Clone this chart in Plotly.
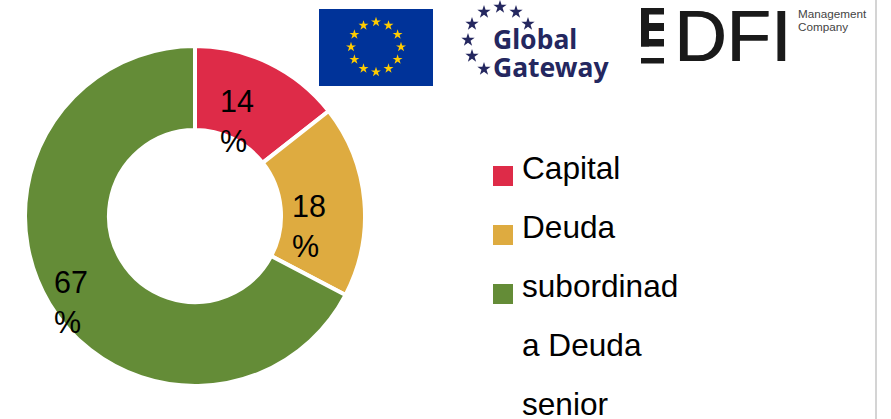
import plotly.graph_objects as go

labels = ["Capital", "Deuda subordinada", "Deuda senior"]
values = [14.4, 18.3, 67.3]
colors = ["#DE2B48", "#DEAB40", "#648C37"]
pie_text = ["14<br>%", "18<br>%", "67<br>%"]
pie_text_x = [237, 309, 71]
pie_text_y = [121, 226, 302]
legend_lines = ["Capital", "Deuda", "subordinad", "a Deuda", "senior"]
legend_line_y = [168, 227, 286, 345, 404]
swatch_y = [176, 235, 294]
flag_star_x = [376, 388.5, 397.6, 401, 397.6, 388.5, 376, 363.5, 354.4, 351, 354.4, 363.5]
flag_star_y = [22, 25.4, 34.5, 47, 59.5, 68.6, 72, 68.6, 59.5, 47, 34.5, 25.4]
gg_star_x = [484, 500, 516, 528, 472, 468, 472, 484]
gg_star_y = [12, 7, 12, 24, 24, 40, 56, 69]

W, H = 891, 419
fig = go.Figure()
fig.add_trace(go.Pie(
    values=values, labels=labels, hole=0.506, sort=False, direction="clockwise", rotation=0,
    marker=dict(colors=colors, line=dict(color="white", width=4)),
    textinfo="none", hoverinfo="label+percent", showlegend=False,
    domain=dict(x=[25 / W, 365 / W], y=[1 - 386 / H, 1 - 46 / H]),
))
fig.add_trace(go.Scatter(x=flag_star_x, y=flag_star_y, mode="markers", showlegend=False, hoverinfo="skip",
                         marker=dict(symbol="star", size=7.5, color="#FFCC00", line=dict(width=0))))
fig.add_trace(go.Scatter(x=gg_star_x, y=gg_star_y, mode="markers", showlegend=False, hoverinfo="skip",
                         marker=dict(symbol="star", size=10, color="#24275F", line=dict(width=0))))

shapes = [
    dict(type="rect", x0=319, x1=433, y0=9, y1=86, fillcolor="#003399", line_width=0, layer="below"),
    dict(type="rect", x0=641, x1=664, y0=8, y1=14.5, fillcolor="#1a1a1a", line_width=0),
    dict(type="rect", x0=641, x1=664, y0=23, y1=31, fillcolor="#1a1a1a", line_width=0),
    dict(type="rect", x0=641, x1=664, y0=39, y1=46.5, fillcolor="#1a1a1a", line_width=0),
    dict(type="rect", x0=641, x1=649, y0=8, y1=46.5, fillcolor="#1a1a1a", line_width=0),
    dict(type="rect", x0=641, x1=664, y0=58, y1=63.5, fillcolor="#1a1a1a", line_width=0),
    dict(type="line", x0=876, x1=876, y0=0, y1=H, line=dict(color="#d4d4d4", width=2)),
]
for c, y in zip(colors, swatch_y):
    shapes.append(dict(type="rect", x0=493, x1=513, y0=y - 10, y1=y + 10, fillcolor=c, line_width=0))

ann = []
for t, x, y in zip(pie_text, pie_text_x, pie_text_y):
    ann.append(dict(x=x, y=y, text=t, showarrow=False, xanchor="center", yanchor="middle", align="left",
                    font=dict(family="Liberation Sans", size=30.5, color="#000")))
for t, y in zip(legend_lines, legend_line_y):
    ann.append(dict(x=520, y=y, text=t, showarrow=False, xanchor="left", yanchor="middle",
                    font=dict(family="Liberation Sans", size=31.6, color="#000")))
ann.append(dict(x=491, y=39, text="<b>Global</b>", showarrow=False, xanchor="left", yanchor="middle",
                font=dict(family="Noto Sans", size=26.5, color="#24275F")))
ann.append(dict(x=491, y=67, text="<b>Gateway</b>", showarrow=False, xanchor="left", yanchor="middle",
                font=dict(family="Noto Sans", size=26.5, color="#24275F")))
ann.append(dict(x=671.5, y=35.5, text="DFI", showarrow=False, xanchor="left", yanchor="middle",
                font=dict(family="Liberation Sans", size=72.5, color="#1a1a1a", shadow="1px 0 0 #1a1a1a")))
ann.append(dict(x=796, y=13, text="Management", showarrow=False, xanchor="left", yanchor="middle",
                font=dict(family="Liberation Sans", size=11.7, color="#444")))
ann.append(dict(x=796, y=26, text="Company", showarrow=False, xanchor="left", yanchor="middle",
                font=dict(family="Liberation Sans", size=11.7, color="#444")))

fig.update_layout(
    width=W, height=H, margin=dict(l=0, r=0, t=0, b=0), paper_bgcolor="white", plot_bgcolor="rgba(0,0,0,0)",
    xaxis=dict(range=[0, W], visible=False, fixedrange=True),
    yaxis=dict(range=[H, 0], visible=False, fixedrange=True),
    shapes=shapes, annotations=ann, showlegend=False,
)
fig.write_html("out.html", config=dict(displayModeBar=False),
               post_script="document.body.style.margin='0';document.body.style.overflow='hidden';")
